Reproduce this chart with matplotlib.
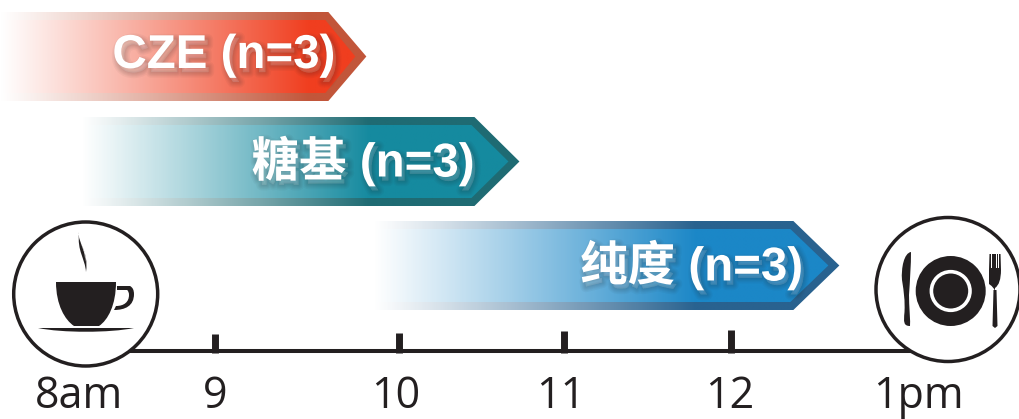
import numpy as np
import matplotlib

matplotlib.use('Agg')
import matplotlib.pyplot as plt
import matplotlib.patheffects as pe
from matplotlib.colors import LinearSegmentedColormap
from matplotlib.patches import Circle, PathPatch, Polygon
from matplotlib.path import Path

# time, in hours
tick_hours = [9.0, 10.07, 11.03, 12.0]
tick_names = ['8am', '9', '10', '11', '12', '1pm']
label_hours = [8.21, 9.0, 10.05, 11.01, 11.99, 13.09]

task_names = ['CZE (n=3)', '糖基 (n=3)', '纯度 (n=3)']
task_start = [7.75, 8.22, 9.92]
task_end = [9.88, 10.77, 12.63]
task_full = [9.55, 9.9, 11.8]   # where the fade reaches full colour
task_text_right = [9.7, 10.51, 12.42]

inner_colors = ['#f03e1f', '#158a9f', '#1b87c7']
outer_colors = ['#c2563a', '#1f6b73', '#29628f']

PX_PER_HOUR = 172.0
row_y = [56.5, 161.5, 265.5]
tip_px = [38, 45, 46]

fig = plt.figure(figsize=(10.2, 4.19), dpi=100)
ax = fig.add_axes([0, 0, 1, 1])
ax.axis('off')


def arrow_points(x0, x1, yc, half, tip):
    return [(x0, yc - half), (x1 - tip, yc - half), (x1, yc),
            (x1 - tip, yc + half), (x0, yc + half)]


def gradient_arrow(x0, x1, x_full, yc, half, tip, color, z):
    cmap = LinearSegmentedColormap.from_list('fade', ['#ffffff', color])
    g = np.clip((np.linspace(x0, x1, 400) - x0) / (x_full - x0), 0, 1) ** 1.05
    im = ax.imshow(g[None, :], extent=[x0, x1, yc + half, yc - half], cmap=cmap,
                   vmin=0, vmax=1, aspect='auto', zorder=z, interpolation='bilinear')
    poly = Polygon(arrow_points(x0, x1, yc, half, tip), closed=True,
                   transform=ax.transData, fc='none', ec='none')
    ax.add_patch(poly)
    im.set_clip_path(poly)


# soft drop shadow, stacked strokes pushed down and to the right
shadow = [pe.Stroke(linewidth=lw, foreground='#202020', alpha=0.04, offset=(2.2, -3))
          for lw in [8, 6, 4.5, 3, 1.5]] + [pe.Normal()]

for i in range(3):
    gradient_arrow(task_start[i], task_end[i], task_full[i], row_y[i], 44.5,
                   tip_px[i] / PX_PER_HOUR, outer_colors[i], 2)
    gradient_arrow(task_start[i], task_end[i] - 11 / PX_PER_HOUR, task_full[i], row_y[i], 36.5,
                   (tip_px[i] - 8) / PX_PER_HOUR, inner_colors[i], 3)
    ax.text(task_text_right[i], row_y[i] - 0.5, task_names[i], color='white', fontsize=34.2,
            fontweight='bold', family=['Liberation Sans', 'Noto Sans CJK SC'],
            ha='right', va='center', zorder=5, path_effects=shadow)

ax.set_xlim(9 - 215 / PX_PER_HOUR, 9 + 805 / PX_PER_HOUR)
ax.set_ylim(419, 0)

ink = '#231f20'
ax.plot([8.25, 13.1], [350.7, 350.7], color=ink, lw=2.9, solid_capstyle='butt', zorder=1)
tick_tops = [334, 333, 331, 330]
ax.vlines(tick_hours, tick_tops, 353, color=ink, lw=5, zorder=1)
for h, name in zip(label_hours, tick_names):
    ax.text(h, 397, name, color=ink, fontsize=31, family='Open Sans',
            ha='center', va='center', zorder=5)

# icons are drawn in picture pixels on a second layer
icons = fig.add_axes([0, 0, 1, 1], facecolor='none')
icons.set_xlim(0, 1020)
icons.set_ylim(419, 0)
icons.axis('off')


def shape(verts, codes, color=ink, z=8):
    icons.add_patch(PathPatch(Path(verts, codes), fc=color, ec='none', zorder=z))


M, L, C3, C4, Z = Path.MOVETO, Path.LINETO, Path.CURVE3, Path.CURVE4, Path.CLOSEPOLY

icons.add_patch(Circle((85.7, 294), 72, fc='white', ec=ink, lw=2.5, zorder=6))
icons.add_patch(Circle((948, 289.5), 72, fc='white', ec=ink, lw=2.5, zorder=6))

# cup
shape([(56, 282), (116, 282), (116, 305), (108, 320), (99, 326), (74, 326), (65, 320), (56, 305),
       (56, 282), (56, 282)], [M, L, C4, C4, C4, L, C4, C4, C4, Z])
shape([(117, 286), (130, 286), (134, 288), (134, 294), (134, 306), (125, 310), (114, 310),
       (116, 306), (124, 306), (129, 302), (129, 295), (129, 291), (127, 290), (117, 290), (117, 286)],
      [M, L, C3, C3, C4, C4, C4, L, C4, C4, C4, C3, C3, L, Z])
# saucer
shape([(38, 328), (134, 328), (110, 333), (62, 333), (38, 328), (38, 328)], [M, L, C4, C4, C4, Z])
# steam, two thin strands
shape([(79, 232), (77, 243), (89, 250), (86, 272), (85, 258), (77, 252), (79, 232), (79, 232)],
      [M, C4, C4, C4, C4, C4, C4, Z])
shape([(80.5, 243), (83, 249), (85.5, 253), (85, 262), (87, 252), (83, 249), (80.5, 243), (80.5, 243)],
      [M, C4, C4, C4, C4, C4, C4, Z], color='white', z=9)

# plate
icons.add_patch(Circle((950.7, 291), 35, fc=ink, ec='none', zorder=8))
icons.add_patch(Circle((950.7, 291), 19.3, fc=ink, ec='white', lw=2.6, zorder=9))
# knife
shape([(911, 252), (904, 253), (901, 268), (902, 280), (904, 293), (905, 300), (904.5, 312),
       (903.5, 322), (903.5, 326), (910, 326), (910.5, 322), (909, 305), (909, 295),
       (910, 280), (911, 265), (911, 252), (911, 252)],
      [M, C4, C4, C4, C4, C4, C4, C4, L, C4, C4, C4, C4, C4, C4, L, Z])
# fork
shape([(993.5, 290), (996.5, 290), (997.5, 326), (995, 328), (992.5, 326), (993.5, 290)],
      [M, L, L, L, L, Z])
shape([(989.5, 254), (1000.5, 254), (1001, 270), (1001, 284), (995, 288), (995, 292), (995, 288),
       (989, 284), (989, 270), (989.5, 254)], [M, L, L, C3, C3, L, C3, C3, L, Z])
for x in [991.8, 994, 996.2, 998.4]:
    icons.add_patch(Polygon([(x - 0.4, 253), (x + 0.4, 253), (x + 0.4, 268), (x - 0.4, 268)],
                            closed=True, fc='white', ec='none', zorder=9))

fig.savefig('out.png', dpi=100)
